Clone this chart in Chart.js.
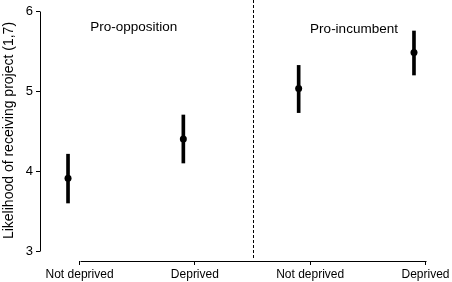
<!DOCTYPE html>
<html>
<head>
<meta charset="utf-8">
<script src="https://cdn.jsdelivr.net/npm/chart.js@4"></script>
<style>
  body { margin: 0; background: #fff; }
</style>
</head>
<body>
<canvas id="chart" width="452" height="282"></canvas>
<script>
const categories = ['Not deprived', 'Deprived', 'Not deprived', 'Deprived'];
const means = [3.91, 4.40, 5.03, 5.48];
const lower = [3.60, 4.10, 4.73, 5.20];
const upper = [4.21, 4.70, 5.32, 5.75];
const yTicks = [3, 4, 5, 6];
const groups = ['Pro-opposition', 'Pro-incumbent'];

const FONT = 'Liberation Sans, Arial, sans-serif';

// axes drawn like base R: lines only between first and last tick, plus divider and group labels
const extras = {
  id: 'extras',
  afterDraw(chart) {
    const { ctx, chartArea, scales: { x, y } } = chart;
    ctx.save();
    ctx.strokeStyle = '#000';
    ctx.lineWidth = 1;
    ctx.beginPath();
    const ax = Math.round(chartArea.left) + 0.5;
    ctx.moveTo(ax, Math.round(y.getPixelForValue(yTicks[0])) + 0.5);
    ctx.lineTo(ax, Math.round(y.getPixelForValue(yTicks[yTicks.length - 1])) + 0.5);
    const by = Math.round(chartArea.bottom) + 0.5;
    ctx.moveTo(Math.round(x.getPixelForValue(0.1)) + 0.5, by);
    ctx.lineTo(Math.round(x.getPixelForValue(categories.length - 0.9)) + 0.5, by);
    ctx.stroke();

    // dashed divider between groups
    const dx = Math.round(x.getPixelForValue(1.6)) + 0.5;
    ctx.setLineDash([3, 2]);
    ctx.beginPath();
    ctx.moveTo(dx, chartArea.top);
    ctx.lineTo(dx, chartArea.bottom - 1);
    ctx.stroke();
    ctx.setLineDash([]);

    ctx.fillStyle = '#000';
    ctx.font = '13.5px ' + FONT;
    ctx.textAlign = 'center';
    ctx.textBaseline = 'middle';
    ctx.fillText(groups[0], x.getPixelForValue(0.57), y.getPixelForValue(5.8));
    ctx.fillText(groups[1], x.getPixelForValue(2.48), y.getPixelForValue(5.775));
    ctx.restore();
  }
};

new Chart(document.getElementById('chart'), {
  type: 'bar',
  data: {
    datasets: [{
      type: 'bar',
      data: categories.map((c, i) => ({ x: i, y: [lower[i], upper[i]] })),
      backgroundColor: '#000',
      barThickness: 3,
      borderWidth: 0
    }, {
      type: 'scatter',
      data: categories.map((c, i) => ({ x: i, y: means[i] })),
      backgroundColor: '#000',
      borderColor: '#000',
      pointRadius: 3.5,
      borderWidth: 0
    }]
  },
  options: {
    responsive: false,
    animation: false,
    layout: { autoPadding: false, padding: { top: 0, right: 4, left: 0, bottom: 0 } },
    plugins: { legend: { display: false }, tooltip: { enabled: false } },
    scales: {
      x: {
        type: 'linear',
        min: -0.243,
        max: 3.295,
        offset: false,
        afterBuildTicks: s => { s.ticks = categories.map((c, i) => ({ value: i + 0.1 })); },
        afterFit: s => { s.height = 21; s.paddingLeft = 0; s.paddingRight = 0; },
        ticks: {
          autoSkip: false,
          maxRotation: 0,
          padding: 2,
          color: '#000',
          font: { family: FONT, size: 12 },
          callback: (v, i) => categories[i]
        },
        grid: { offset: false, drawOnChartArea: false, tickLength: 4, color: '#000' },
        border: { display: false }
      },
      y: {
        min: 2.875,
        max: 6.1375,
        afterBuildTicks: s => { s.ticks = yTicks.map(v => ({ value: v })); },
        afterFit: s => { s.width = 40; s.paddingTop = 0; s.paddingBottom = 0; },
        ticks: {
          padding: 3,
          color: '#000',
          font: { family: FONT, size: 13 }
        },
        grid: { drawOnChartArea: false, tickLength: 4, color: '#000' },
        border: { display: false },
        title: {
          display: true,
          text: 'Likelihood of receiving project (1,7)',
          color: '#000',
          padding: { top: 1, bottom: 0 },
          font: { family: FONT, size: 14 }
        }
      }
    }
  },
  plugins: [extras]
});
</script>
</body>
</html>
